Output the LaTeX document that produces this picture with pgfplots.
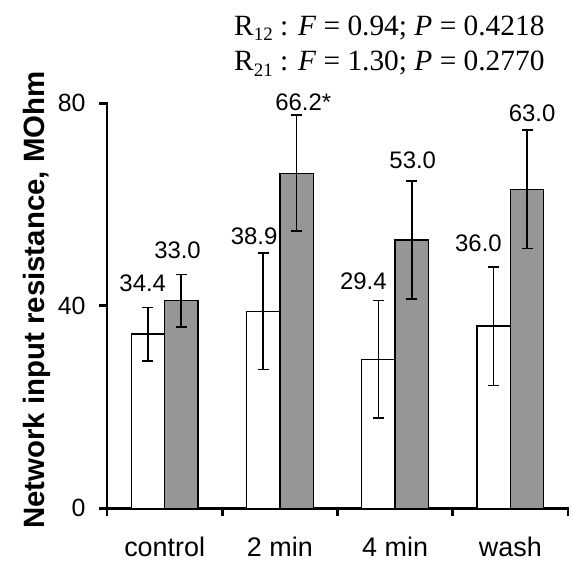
\documentclass[border=0pt]{standalone}
\usepackage{pgfplots}
\pgfplotsset{compat=1.18}
\usepackage{fontspec}
\setmainfont{Liberation Sans}
\newfontfamily\timesfont{Liberation Serif}
\definecolor{bargray}{RGB}{150,150,150}
\begin{document}
\begin{tikzpicture}[x=1bp,y=1bp]
\begin{axis}[
  at={(0,0)}, anchor=south west,
  scale only axis, width=461bp, height=405bp,
  xmin=-0.5, xmax=3.5, ymin=0, ymax=80,
  axis x line*=bottom, axis y line*=left,
  axis line style={line width=2.7bp, line cap=rect},
  ytick={0,40,80},
  xtick={-0.5,0.5,1.5,2.5,3.5},
  x tick label as interval,
  xticklabels={control,2 min,4 min,wash},
  tick align=outside,
  major tick length=8bp,
  tick style={line width=2.7bp, black},
  xtick style={line width=2.7bp, black},
  /pgf/number format/assume math mode=true,
  xticklabel style={font=\fontsize{27}{27}\selectfont, anchor=base, inner sep=0pt, yshift=-40.4bp},
  yticklabel style={font=\fontsize{25}{25}\selectfont, xshift=-10bp},
  ybar, bar width=0.29,
  clip=false,
]
\addplot[fill=white, draw=black, line width=1.3bp, bar shift=-0.145,
  error bars/.cd, y dir=both, y explicit,
  error bar style={line width=1.4bp, black},
  error mark options={rotate=90, mark size=5.5bp, line width=1.4bp, black}]
  coordinates {(0,34.4) +- (0,5.3) (1,38.9) +- (0,11.5) (2,29.4) +- (0,11.6) (3,36.0) +- (0,11.7)};
\addplot[fill=bargray, draw=black, line width=1.3bp, bar shift=0.145,
  error bars/.cd, y dir=both, y explicit,
  error bar style={line width=1.8bp, black},
  error mark options={rotate=90, mark size=5.5bp, line width=1.8bp, black}]
  coordinates {(0,41.0) +- (0,5.2) (1,66.2) +- (0,11.5) (2,53.0) +- (0,11.6) (3,63.0) +- (0,11.7)};
\begin{scope}[every node/.style={font=\fontsize{24}{24}\selectfont, inner sep=0pt, anchor=center}]
\node at (axis cs:-0.190,44.5) {34.4};
\node at (axis cs:0.112,50.9) {33.0};
\node at (axis cs:0.777,53.8) {38.9};
\node at (axis cs:1.203,80.3) {66.2*};
\node at (axis cs:1.724,44.8) {29.4};
\node at (axis cs:2.153,68.7) {53.0};
\node at (axis cs:2.723,52.3) {36.0};
\node at (axis cs:3.189,78.0) {63.0};
\end{scope}
\node[rotate=90, anchor=base, inner sep=0pt, font=\bfseries\fontsize{29.5}{29.5}\selectfont]
  at (axis description cs:-0.1345,0.514) {Network input resistance, MOhm};
\node[anchor=base west, inner sep=0pt, font=\timesfont\fontsize{29.5}{29.5}\selectfont]
  at (axis description cs:0.2755,1.1686) {R\raisebox{-0.18em}{\fontsize{19}{19}\selectfont 12} : \textit{F} = 0.94; \textit{P} = 0.4218};
\node[anchor=base west, inner sep=0pt, font=\timesfont\fontsize{29.5}{29.5}\selectfont]
  at (axis description cs:0.2755,1.0798) {R\raisebox{-0.18em}{\fontsize{19}{19}\selectfont 21} : \textit{F} = 1.30; \textit{P} = 0.2770};
\end{axis}
\pgfresetboundingbox
\useasboundingbox (-107bp,-59.7bp) rectangle (464bp,508.3bp);
\end{tikzpicture}
\end{document}
